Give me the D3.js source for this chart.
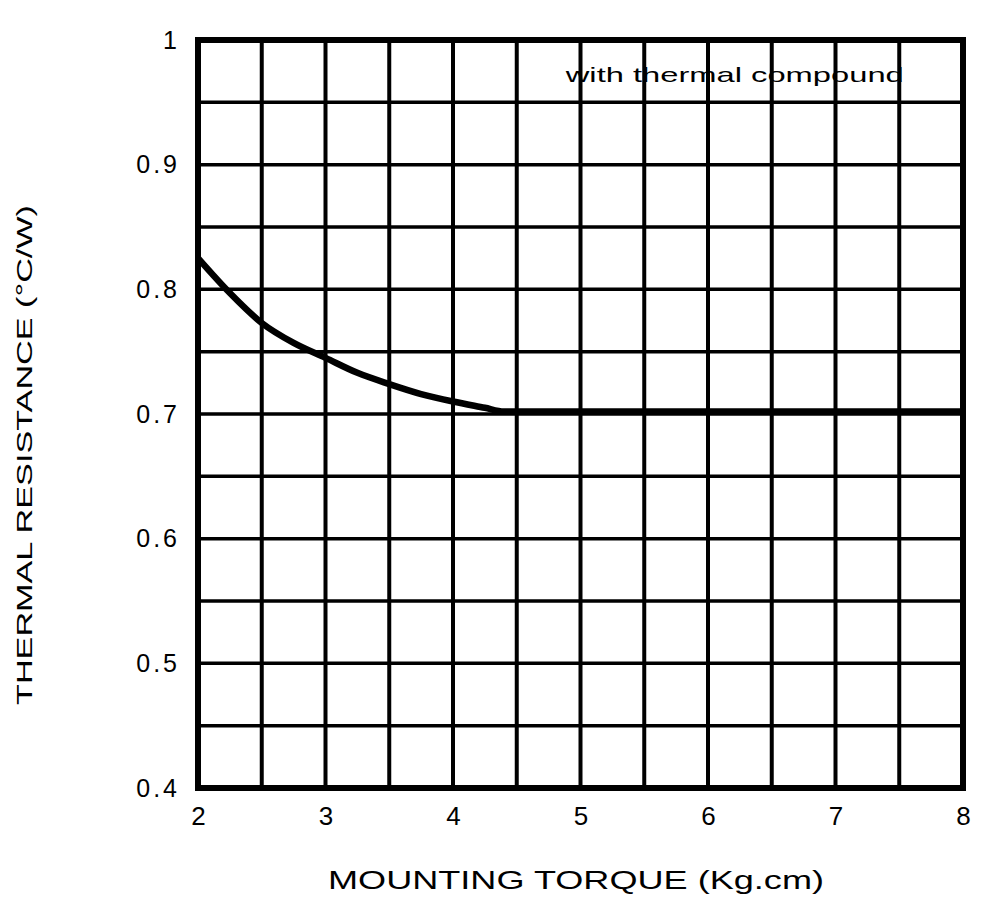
<!DOCTYPE html>
<html>
<head>
<meta charset="utf-8">
<script src="https://cdn.jsdelivr.net/npm/d3@7"></script>
<style>
  body { margin: 0; background: #fff; }
  text { font-family: "Liberation Sans", Arial, sans-serif; fill: #000; }
</style>
</head>
<body>
<svg id="chart" width="1000" height="898"></svg>
<script>
// Curve
const torque = [2, 2.25, 2.5, 2.75, 3, 3.25, 3.5, 3.75, 4, 4.25, 4.4, 5, 6, 7, 8];
const resistance = [0.825, 0.797, 0.773, 0.757, 0.745, 0.733, 0.724, 0.716, 0.71, 0.705, 0.702, 0.702, 0.702, 0.702, 0.702];

// Tick labels
const xTicks = [2, 3, 4, 5, 6, 7, 8];
const yTicks = [0.4, 0.5, 0.6, 0.7, 0.8, 0.9, 1];
const yTickLabels = ["0.4", "0.5", "0.6", "0.7", "0.8", "0.9", "1"];

// Grid every 0.5 on x and 0.05 on y
const xGrid = d3.range(2.5, 8, 0.5);
const yGrid = d3.range(0.45, 0.999, 0.05);

const svg = d3.select("#chart"),
      margin = {top: 40, right: 37, bottom: 110, left: 198},
      width = +svg.attr("width"),
      height = +svg.attr("height");

const x = d3.scaleLinear()
    .domain([2, 8])
    .range([margin.left, width - margin.right]);

const y = d3.scaleLinear()
    .domain([0.4, 1])
    .range([height - margin.bottom, margin.top]);

// grid lines
svg.append("g")
    .selectAll("line")
    .data(xGrid)
    .join("line")
    .attr("x1", d => x(d)).attr("x2", d => x(d))
    .attr("y1", y(0.4)).attr("y2", y(1))
    .attr("stroke", "#000")
    .attr("stroke-width", 4);

svg.append("g")
    .selectAll("line")
    .data(yGrid)
    .join("line")
    .attr("x1", x(2)).attr("x2", x(8))
    .attr("y1", d => y(d)).attr("y2", d => y(d))
    .attr("stroke", "#000")
    .attr("stroke-width", 3.5);

// frame
svg.append("rect")
    .attr("x", x(2))
    .attr("y", y(1))
    .attr("width", x(8) - x(2))
    .attr("height", y(0.4) - y(1))
    .attr("fill", "none")
    .attr("stroke", "#000")
    .attr("stroke-width", 6);

// curve
const data = torque.map((t, i) => ({t: t, r: resistance[i]}));
const line = d3.line()
    .x(d => x(d.t))
    .y(d => y(d.r))
    .curve(d3.curveMonotoneX);

svg.append("path")
    .datum(data)
    .attr("fill", "none")
    .attr("stroke", "#000")
    .attr("stroke-width", 6.5)
    .attr("d", line);

// axis tick labels
const xAxis = d3.axisBottom(x)
    .tickValues(xTicks)
    .tickSize(0)
    .tickPadding(19)
    .tickFormat(d3.format("d"));

svg.append("g")
    .attr("transform", `translate(0,${y(0.4)})`)
    .call(xAxis)
    .call(g => g.select(".domain").remove())
    .call(g => g.selectAll("text")
        .attr("font-size", 26)
        .attr("font-family", "Liberation Sans, Arial, sans-serif"));

const yAxis = d3.axisLeft(y)
    .tickValues(yTicks)
    .tickSize(0)
    .tickPadding(18)
    .tickFormat((d, i) => yTickLabels[i]);

svg.append("g")
    .attr("transform", `translate(${x(2)},0)`)
    .call(yAxis)
    .call(g => g.select(".domain").remove())
    .call(g => g.selectAll("text")
        .attr("font-size", 25)
        .attr("font-family", "Liberation Sans, Arial, sans-serif")
        .attr("letter-spacing", 3));

// annotation
svg.append("text")
    .attr("x", x(6.21))
    .attr("y", y(0.966))
    .attr("text-anchor", "middle")
    .attr("font-size", 21)
    .attr("textLength", 338)
    .attr("lengthAdjust", "spacingAndGlyphs")
    .text("with thermal compound");

// axis titles
svg.append("text")
    .attr("x", 576)
    .attr("y", 889)
    .attr("text-anchor", "middle")
    .attr("font-size", 25)
    .attr("textLength", 496)
    .attr("lengthAdjust", "spacingAndGlyphs")
    .text("MOUNTING TORQUE (Kg.cm)");

svg.append("text")
    .attr("transform", `translate(32,455) rotate(-90)`)
    .attr("text-anchor", "middle")
    .attr("font-size", 22)
    .attr("textLength", 500)
    .attr("lengthAdjust", "spacingAndGlyphs")
    .text("THERMAL RESISTANCE (°C/W)");
</script>
</body>
</html>
